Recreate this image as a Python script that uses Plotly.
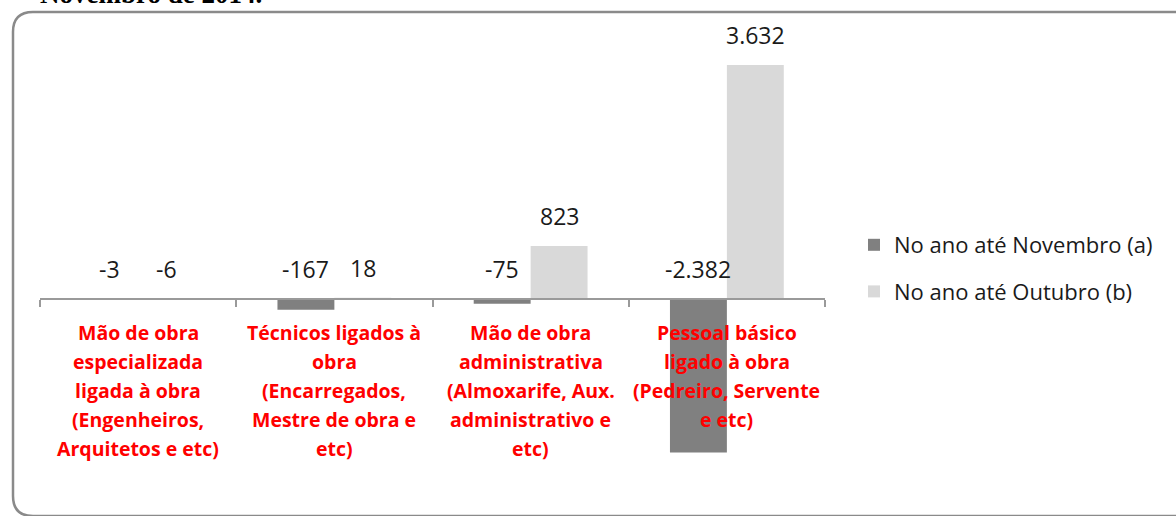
import plotly.graph_objects as go

categories = [
    "Mão de obra<br>especializada<br>ligada à obra<br>(Engenheiros,<br>Arquitetos e etc)",
    "Técnicos ligados à<br>obra<br>(Encarregados,<br>Mestre de obra e<br>etc)",
    "Mão de obra<br>administrativa<br>(Almoxarife, Aux.<br>administrativo e<br>etc)",
    "Pessoal básico<br>ligado à obra<br>(Pedreiro, Servente<br>e etc)",
]
series_names = ["No ano até Novembro (a)", "No ano até Outubro (b)"]
nov_values = [-3, -167, -75, -2382]
out_values = [-6, 18, 823, 3632]
title_text = "Novembro de 2014."

colors = ["#808080", "#d9d9d9"]

W, H = 1176, 516
ML, MR, MT, MB = 40, 351, 40, 46
PW, PH = W - ML - MR, H - MT - MB
YMIN, YMAX = -2655, 4022

def px2x(px):
    return (px - ML) / PW

def py2y(py):
    return (H - MB - py) / PH

def fmt(v):
    return f"{v:,}".replace(",", ".")

keys = ["c%d" % i for i in range(len(categories))]

fig = go.Figure()
for i, (name, vals) in enumerate(zip(series_names, [nov_values, out_values])):
    fig.add_trace(go.Bar(
        x=keys, y=vals, name=name, marker_color=colors[i],
        marker_line_width=0, legendgroup=name, offsetgroup=str(i),
    ))

annotations = []
# value labels
for i, vals in enumerate([nov_values, out_values]):
    for j, v in enumerate(vals):
        annotations.append(dict(
            x=keys[j], y=max(v, 0), xref="x", yref="y",
            text=fmt(v), showarrow=False, yanchor="bottom",
            xshift=(-1 if i == 0 else 1) * 28.5, yshift=12,
            font=dict(family="Open Sans", size=23, color="#1a1a1a"),
        ))
# category labels, one annotation per line
for j, lab in enumerate(categories):
    for k, line in enumerate(lab.split("<br>")):
        annotations.append(dict(
            x=keys[j], y=0, xref="x", yref="y",
            text="<b>%s</b>" % line, showarrow=False, yanchor="middle",
            yshift=-(33 + 29.2 * k),
            font=dict(family="Open Sans", size=19.5, color="#ff0000"),
        ))
# title (cropped at top)
annotations.append(dict(
    x=px2x(38), y=py2y(-6), xref="paper", yref="paper", xanchor="left",
    yanchor="middle", text="<b>%s</b>" % title_text, showarrow=False,
    font=dict(family="Liberation Serif", size=27, color="#000000"),
))

# rounded border
r = 20
x0, y0, y1, x1 = 13, 12, 516, 1200
path = (
    f"M {px2x(x1)},{py2y(y0)} L {px2x(x0 + r)},{py2y(y0)} "
    f"Q {px2x(x0)},{py2y(y0)} {px2x(x0)},{py2y(y0 + r)} "
    f"L {px2x(x0)},{py2y(y1 - r)} "
    f"Q {px2x(x0)},{py2y(y1)} {px2x(x0 + r)},{py2y(y1)} "
    f"L {px2x(x1)},{py2y(y1)}"
)
shapes = [dict(type="path", path=path, xref="paper", yref="paper",
               line=dict(color="#8a8a8a", width=2.5))]

zero_pos = (0 - YMIN) / (YMAX - YMIN)

fig.update_layout(
    width=W, height=H,
    margin=dict(l=ML, r=MR, t=MT, b=MB),
    paper_bgcolor="white", plot_bgcolor="white",
    barmode="group", bargap=0.42, bargroupgap=0,
    xaxis=dict(
        type="category", anchor="free", position=zero_pos,
        showline=True, linecolor="#9a9a9a", linewidth=1.5,
        ticks="outside", tickson="boundaries", ticklen=7, tickcolor="#9a9a9a",
        tickwidth=1.5, showticklabels=False, showgrid=False, zeroline=False,
    ),
    yaxis=dict(range=[YMIN, YMAX], visible=False),
    showlegend=True,
    legend=dict(
        x=px2x(854), y=py2y(224), xanchor="left", yanchor="top",
        font=dict(family="Open Sans", size=22, color="#1a1a1a"),
        tracegroupgap=15, bgcolor="rgba(0,0,0,0)",
    ),
    annotations=annotations,
    shapes=shapes,
)

fig.write_html(
    "out.html",
    config={"displayModeBar": False},
    post_script="document.body.style.margin='0';document.body.style.overflow='hidden';",
)
